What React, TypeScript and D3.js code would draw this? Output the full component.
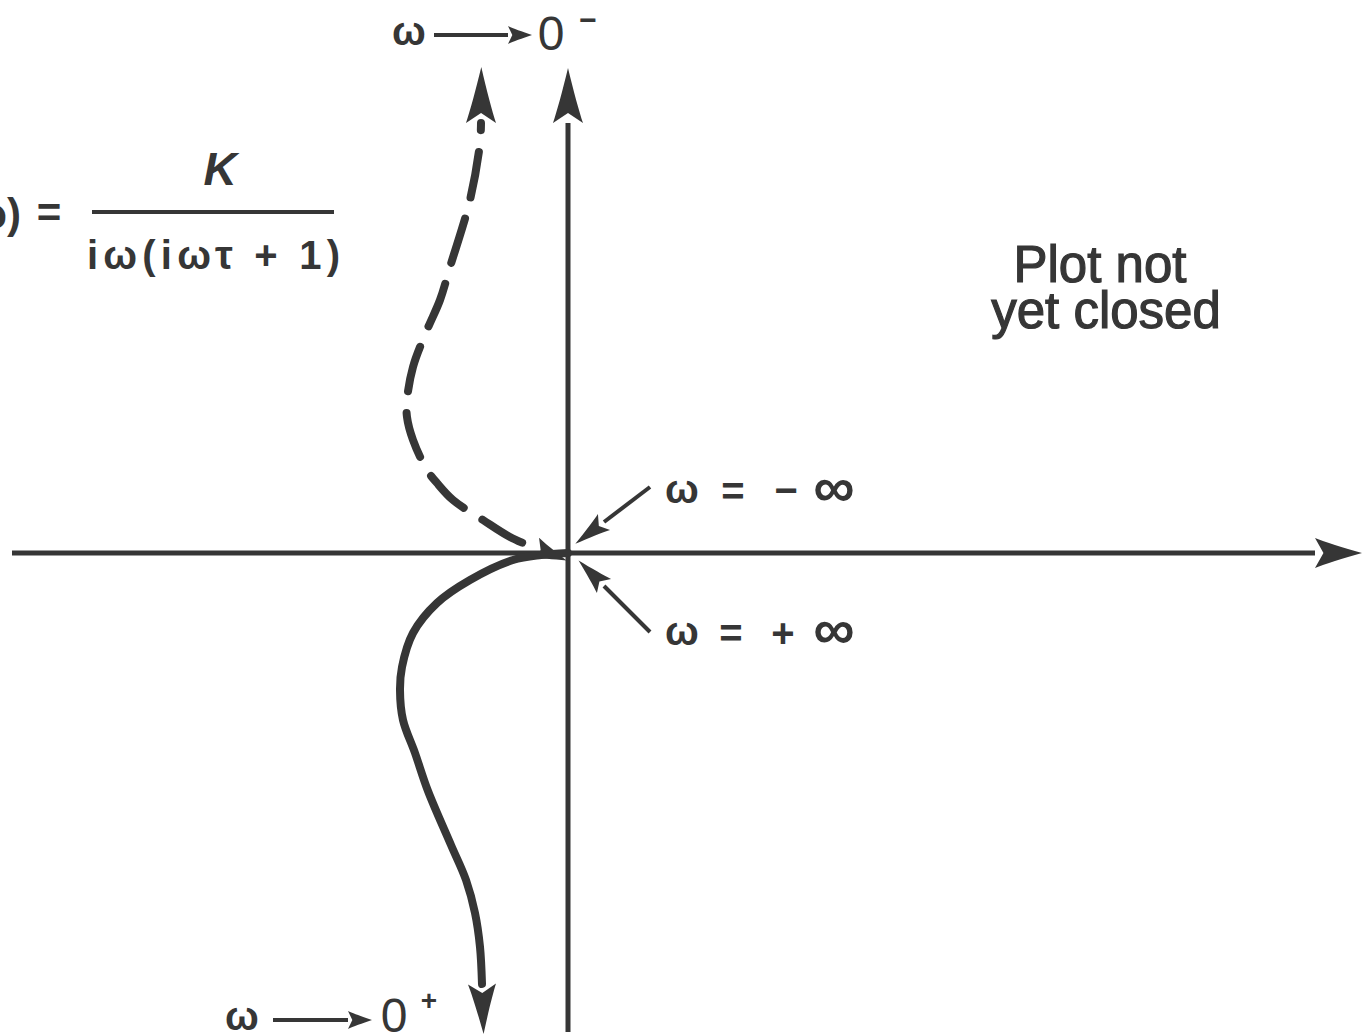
import React from "react";
import * as d3 from "d3";

// Nyquist sketch of G(iω) = K / (iω(iωτ + 1)) in the complex plane (units: Re, Im)
const WIDTH = 1364;
const HEIGHT = 1036;

// ω > 0 branch (solid), from ω = +∞ at the origin down to ω → 0+
const positiveBranch: [number, number][] = [
  [0, 0], [-0.27, -0.02], [-0.55, -0.07], [-0.98, -0.27], [-1.31, -0.5],
  [-1.55, -0.8], [-1.66, -1.14], [-1.68, -1.37], [-1.65, -1.67],
  [-1.53, -2.0], [-1.4, -2.38], [-1.17, -2.92], [-1.02, -3.27],
  [-0.93, -3.6], [-0.88, -3.94], [-0.86, -4.31],
];

// ω < 0 branch (dashed), from ω = -∞ near the origin up to ω → 0-
const negativeBranch: [number, number][] = [
  [-0.33, 0.05], [-0.58, 0.16], [-0.85, 0.33], [-1.15, 0.53], [-1.31, 0.7],
  [-1.41, 0.83], [-1.55, 1.13], [-1.61, 1.36], [-1.61, 1.53],
  [-1.55, 1.86], [-1.41, 2.23], [-1.28, 2.53], [-1.18, 2.86],
  [-0.98, 3.53], [-0.88, 4.1], [-0.87, 4.3],
];

const realAxis: [number, number] = [-5.56, 7.47];
const imagAxis: [number, number] = [-4.79, 4.3];

// pointer arrows to the origin: [from, to]
const pointerMinusInf: [[number, number], [number, number]] = [[0.82, 0.66], [0.36, 0.31]];
const pointerPlusInf: [[number, number], [number, number]] = [[0.82, -0.79], [0.36, -0.33]];

const INK = "#363636";

const x = d3.scaleLinear().domain([0, 1]).range([568, 668]);
const y = d3.scaleLinear().domain([0, 1]).range([553, 453]);

const line = d3
  .line<[number, number]>()
  .x((d) => x(d[0]))
  .y((d) => y(d[1]))
  .curve(d3.curveCatmullRom.alpha(0.5));

function headPath(L: number, W: number): string {
  return `M${L},0 C${L * 0.6},${-W * 0.35} ${L * 0.2},${-W * 0.75} 0,${-W} L${L * 0.18},0 L0,${W} C${L * 0.2},${W * 0.75} ${L * 0.6},${W * 0.35} ${L},0 Z`;
}

function Marker({ id, L, W, start }: { id: string; L: number; W: number; start?: boolean }) {
  return (
    <marker
      id={id}
      markerUnits="userSpaceOnUse"
      markerWidth={L * 2}
      markerHeight={W * 2}
      refX={0}
      refY={0}
      orient={start ? "auto-start-reverse" : "auto"}
      style={{ overflow: "visible" }}
    >
      <path d={headPath(L, W)} fill={INK} />
    </marker>
  );
}

export default function App() {
  const font = "'Liberation Sans', Arial, sans-serif";
  return (
    <svg
      width={WIDTH}
      height={HEIGHT}
      style={{ display: "block", position: "absolute", left: 0, top: 0, background: "#fff" }}
    >
      <defs>
        <Marker id="hAxisHead" L={47} W={15} />
        <Marker id="vAxisHead" L={55} W={15} />
        <Marker id="topHead" L={56} W={15} />
        <Marker id="bottomHead" L={50} W={14} />
        <Marker id="originHead" L={34} W={11} start />
        <Marker id="pointerHead" L={36} W={10} />
        <Marker id="labelHead" L={24} W={9} />
      </defs>

      {/* axes */}
      <line
        x1={x(realAxis[0])} y1={y(0)} x2={x(realAxis[1])} y2={y(0)}
        stroke={INK} strokeWidth={5} markerEnd="url(#hAxisHead)"
      />
      <line
        x1={x(0)} y1={y(imagAxis[0])} x2={x(0)} y2={y(imagAxis[1])}
        stroke={INK} strokeWidth={5} markerEnd="url(#vAxisHead)"
      />

      {/* ω > 0 branch */}
      <path
        d={line(positiveBranch) || ""}
        fill="none" stroke={INK} strokeWidth={8} strokeLinecap="round"
        markerEnd="url(#bottomHead)"
      />

      {/* ω < 0 branch */}
      <path
        d={line(negativeBranch) || ""}
        fill="none" stroke={INK} strokeWidth={8} strokeLinecap="round"
        strokeDasharray="46 22" strokeDashoffset={-14}
        markerStart="url(#originHead)"
      />
      <path
        d={line(negativeBranch) || ""}
        fill="none" stroke="none"
        markerEnd="url(#topHead)"
      />

      {/* pointers to ω = ±∞ */}
      {[pointerMinusInf, pointerPlusInf].map((p, i) => (
        <line
          key={i}
          x1={x(p[0][0])} y1={y(p[0][1])} x2={x(p[1][0])} y2={y(p[1][1])}
          stroke={INK} strokeWidth={4} markerEnd="url(#pointerHead)"
        />
      ))}

      <g fill={INK} fontFamily={font} fontWeight="bold">
        {/* ω = −∞ */}
        <text x={682} y={503} fontSize={40} textAnchor="middle">ω</text>
        <text x={733} y={505} fontSize={40} textAnchor="middle">=</text>
        <text x={786} y={504} fontSize={40} textAnchor="middle">−</text>
        <text x={834} y={507} fontSize={58} textAnchor="middle">∞</text>

        {/* ω = +∞ */}
        <text x={682} y={645} fontSize={40} textAnchor="middle">ω</text>
        <text x={731} y={647} fontSize={40} textAnchor="middle">=</text>
        <text x={783} y={647} fontSize={40} textAnchor="middle">+</text>
        <text x={834} y={649} fontSize={58} textAnchor="middle">∞</text>

        {/* ω → 0− */}
        <text x={409} y={45} fontSize={40} textAnchor="middle">ω</text>
        <text x={551} y={50} fontSize={48} fontWeight="normal" textAnchor="middle">0</text>
        <text x={588} y={30} fontSize={30} textAnchor="middle">−</text>

        {/* ω → 0+ */}
        <text x={242} y={1030} fontSize={40} textAnchor="middle">ω</text>
        <text x={394} y={1032} fontSize={48} fontWeight="normal" textAnchor="middle">0</text>
        <text x={429} y={1010} fontSize={28} textAnchor="middle">+</text>
      </g>
      <line x1={434} y1={35} x2={508} y2={35} stroke={INK} strokeWidth={4} markerEnd="url(#labelHead)" />
      <line x1={273} y1={1020} x2={348} y2={1020} stroke={INK} strokeWidth={4} markerEnd="url(#labelHead)" />

      {/* transfer function */}
      <g fill={INK} fontFamily={font} fontWeight="bold">
        <text x={21} y={228} fontSize={42} textAnchor="end">G(iω)</text>
        <text x={49} y={227} fontSize={42} textAnchor="middle">=</text>
        <text x={220} y={185} fontSize={46} fontStyle="italic" textAnchor="middle">K</text>
        <text x={87} y={269} fontSize={40} textLength={253} lengthAdjust="spacing">iω(iωτ + 1)</text>
      </g>
      <line x1={92} y1={212} x2={334} y2={212} stroke={INK} strokeWidth={4} />

      {/* note */}
      <g fill={INK} fontFamily={font} fontSize={51} stroke={INK} strokeWidth={1.2}>
        <text x={1100} y={282} textAnchor="middle">Plot not</text>
        <text x={1106} y={328} textAnchor="middle">yet closed</text>
      </g>
    </svg>
  );
}
